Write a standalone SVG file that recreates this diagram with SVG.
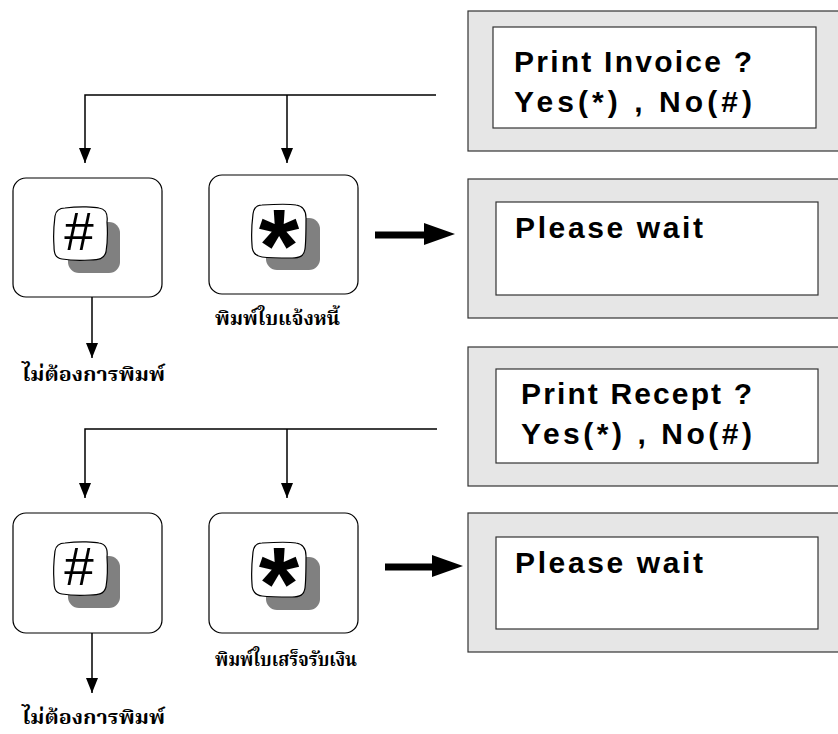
<svg xmlns="http://www.w3.org/2000/svg" width="838" height="734" viewBox="0 0 838 734">
<style>
.panel{fill:#e6e6e6;stroke:#333;stroke-width:1.2}
.screen{fill:#fff;stroke:#333;stroke-width:1.2}
.ptext{font-family:"Liberation Sans",Arial,sans-serif;font-weight:bold;font-size:30px;fill:#000}
.box{fill:#fff;stroke:#000;stroke-width:1.2}
.shadow{fill:#808080}
.key{fill:#fff;stroke:#000;stroke-width:1.2}
.hash{font-family:"Liberation Sans",Arial,sans-serif;font-size:53px;fill:#000;text-anchor:middle}
.star{font-family:"Liberation Sans",Arial,sans-serif;font-weight:bold;font-size:104px;fill:#000;text-anchor:middle}
.thai{font-family:"Noto Serif Thai","Noto Sans Thai","Tlwg Typo","Garuda","DejaVu Serif",serif;font-weight:bold;font-size:19px;fill:#000}
.line{fill:none;stroke:#000;stroke-width:1.5}
.thick{fill:none;stroke:#000;stroke-width:7}
</style>

<g id="panel-invoice">
<rect class="panel" x="468" y="11" width="380" height="140"/>
<rect class="screen" x="493" y="27" width="323" height="101"/>
<text class="ptext" x="514" y="72" textLength="238" lengthAdjust="spacing">Print Invoice ?</text>
<text class="ptext" x="514" y="112" textLength="238" lengthAdjust="spacing">Yes(*) , No(#)</text>
</g>

<g id="panel-wait-1">
<rect class="panel" x="468" y="179" width="380" height="139"/>
<rect class="screen" x="496" y="202" width="322" height="93"/>
<text class="ptext" x="515" y="238" textLength="188" lengthAdjust="spacing">Please wait</text>
</g>

<g id="panel-recept">
<rect class="panel" x="468" y="347" width="380" height="139"/>
<rect class="screen" x="496" y="369" width="322" height="94"/>
<text class="ptext" x="521" y="404" textLength="231" lengthAdjust="spacing">Print Recept ?</text>
<text class="ptext" x="521" y="444" textLength="231" lengthAdjust="spacing">Yes(*) , No(#)</text>
</g>

<g id="panel-wait-2">
<rect class="panel" x="468" y="513" width="380" height="139"/>
<rect class="screen" x="496" y="537" width="322" height="92"/>
<text class="ptext" x="515" y="573" textLength="188" lengthAdjust="spacing">Please wait</text>
</g>

<g id="key-no-1">
<rect class="box" x="13" y="178" width="149" height="119" rx="13"/>
<rect class="shadow" x="68" y="222" width="52" height="51" rx="11"/>
<path class="key" d="M65,208 C80,206 95,207 99,208 C106,209 108,214 107,222 C108,236 107,246 106,252 C104,259 99,260 90,260 C78,261 68,260 62,259 C55,258 54,253 54,246 C53,234 54,224 55,216 C56,210 59,208 65,208 Z"/>
<text class="hash" x="79" y="250">#</text>
</g>

<g id="key-yes-1">
<rect class="box" x="209" y="175" width="149" height="119" rx="13"/>
<rect class="shadow" x="266" y="218" width="54" height="52" rx="11"/>
<path class="key" d="M262,205 C278,204 290,204 296,205 C303,206 306,210 306,218 C306,232 306,242 305,249 C304,256 300,258 292,258 C280,258 270,258 262,257 C255,256 252,252 252,245 C251,232 252,222 253,214 C254,207 257,205 262,205 Z"/>
<text class="star" x="279" y="282">*</text>
</g>

<g id="key-no-2">
<rect class="box" x="13" y="513" width="149" height="120" rx="13"/>
<rect class="shadow" x="68" y="556" width="52" height="52" rx="11"/>
<path class="key" d="M65,543 C80,541 95,542 99,543 C106,544 108,549 107,557 C108,571 107,581 106,587 C104,594 99,595 90,595 C78,596 68,595 62,594 C55,593 54,588 54,581 C53,569 54,559 55,551 C56,545 59,543 65,543 Z"/>
<text class="hash" x="79" y="585">#</text>
</g>

<g id="key-yes-2">
<rect class="box" x="209" y="513" width="149" height="120" rx="13"/>
<rect class="shadow" x="266" y="557" width="54" height="53" rx="11"/>
<path class="key" d="M262,543 C278,542 290,542 296,543 C303,544 306,548 306,556 C306,570 306,580 305,588 C304,595 300,597 292,597 C280,597 270,597 262,596 C255,595 252,591 252,584 C251,571 252,561 253,552 C254,545 257,543 262,543 Z"/>
<text class="star" x="279" y="620">*</text>
</g>

<g id="label-invoice"><text class="thai" x="215" y="325" textLength="125" lengthAdjust="spacingAndGlyphs">พิมพ์ใบแจ้งหนี้</text></g>
<g id="label-noprint-1"><text class="thai" x="22" y="381" textLength="143" lengthAdjust="spacingAndGlyphs">ไม่ต้องการพิมพ์</text></g>
<g id="label-receipt"><text class="thai" x="215" y="666" textLength="142" lengthAdjust="spacingAndGlyphs">พิมพ์ใบเสร็จรับเงิน</text></g>
<g id="label-noprint-2"><text class="thai" x="22" y="724" textLength="143" lengthAdjust="spacingAndGlyphs">ไม่ต้องการพิมพ์</text></g>

<g id="connectors">
<path class="line" d="M436,95 H85 V163"/>
<path class="line" d="M287,95 V163"/>
<path class="line" d="M92,297 V358"/>
<path class="line" d="M437,429 H85 V498"/>
<path class="line" d="M287,429 V498"/>
<path class="line" d="M92,633 V693"/>
<polygon points="79,148 91,148 85,163"/>
<polygon points="281,148 293,148 287,163"/>
<polygon points="86,343 98,343 92,358"/>
<polygon points="79,483 91,483 85,498"/>
<polygon points="281,483 293,483 287,498"/>
<polygon points="86,678 98,678 92,693"/>
<path class="thick" d="M375,235 H428"/>
<polygon points="424,223 455,234 424,245"/>
<path class="thick" d="M385,567 H436"/>
<polygon points="432,555 463,566 432,577"/>
</g>
</svg>
